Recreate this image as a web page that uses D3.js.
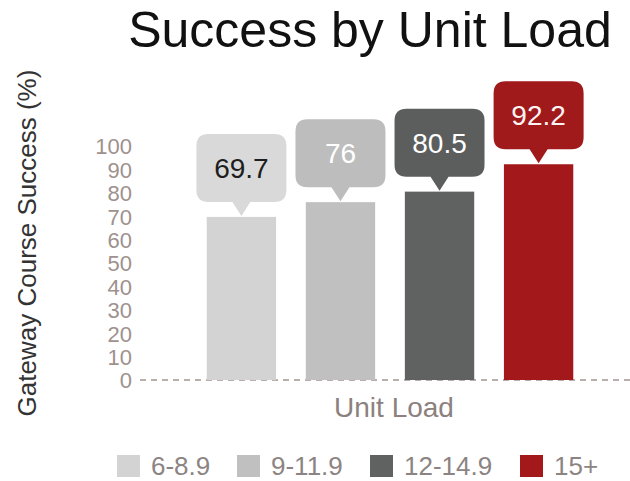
<!DOCTYPE html>
<html lang="en">
<head>
<meta charset="UTF-8">
<title>Success by Unit Load</title>
<style>
  body { margin: 0; background: #fff; }
  svg { display: block; font-family: "Liberation Sans", Arial, sans-serif; }
  .tick text { fill: #9e918e; font-size: 22px; }
</style>
<script src="https://d3js.org/d3.v7.min.js"></script>
</head>
<body>
<script>
// data
const categories = ["6-8.9", "9-11.9", "12-14.9", "15+"];
const values = [69.7, 76, 80.5, 92.2];
const barColors = ["#d3d3d3", "#c0c0c0", "#606262", "#a3191b"];
const boxColors = ["#d9d9d9", "#bdbdbd", "#5c5e5e", "#a0191b"];
const labelColors = ["#1e1e1e", "#ffffff", "#ffffff", "#fdf4f4"];
const yTicks = [0, 10, 20, 30, 40, 50, 60, 70, 80, 90, 100];

const w = 630, h = 481;
const svg = d3.select("body").append("svg")
  .attr("width", w)
  .attr("height", h);

const x = d3.scaleBand()
  .domain(categories)
  .range([177, 603])
  .padding(0.3);

const y = d3.scaleLinear()
  .domain([0, 100])
  .range([380, 146]);

// title
svg.append("text")
  .attr("x", 370)
  .attr("y", 47)
  .attr("text-anchor", "middle")
  .style("font-size", "50px")
  .style("fill", "#111")
  .text("Success by Unit Load");

// y axis label
svg.append("text")
  .attr("transform", "translate(36,243) rotate(-90)")
  .attr("text-anchor", "middle")
  .style("font-size", "26px")
  .style("fill", "#333")
  .text("Gateway Course Success (%)");

// y axis, just the numbers
const yAxis = svg.append("g")
  .attr("transform", "translate(135,0)")
  .call(d3.axisLeft(y).tickValues(yTicks).tickSize(0).tickPadding(3));
yAxis.select(".domain").remove();
yAxis.selectAll("text").attr("dy", "0.36em");

// dashed baseline
svg.append("line")
  .attr("x1", 140)
  .attr("x2", w)
  .attr("y1", y(0))
  .attr("y2", y(0))
  .attr("stroke", "#b8aeac")
  .attr("stroke-width", 2)
  .attr("stroke-dasharray", "6,5");

// bars
svg.selectAll("rect.bar")
  .data(values)
  .enter()
  .append("rect")
  .attr("class", "bar")
  .attr("x", (d, i) => x(categories[i]))
  .attr("y", d => y(d))
  .attr("width", x.bandwidth())
  .attr("height", d => y(0) - y(d))
  .attr("fill", (d, i) => barColors[i]);

// callout bubbles above the bars
const boxW = 90, boxH = 68, gap = 15, r = 12, tri = 9;
function bubble(cx, top) {
  const b = top - gap, t = b - boxH, l = cx - boxW / 2, rt = cx + boxW / 2;
  return "M" + (l + r) + "," + t +
    "H" + (rt - r) + "Q" + rt + "," + t + " " + rt + "," + (t + r) +
    "V" + (b - r) + "Q" + rt + "," + b + " " + (rt - r) + "," + b +
    "H" + (cx + tri) + "L" + cx + "," + (top - 1) + "L" + (cx - tri) + "," + b +
    "H" + (l + r) + "Q" + l + "," + b + " " + l + "," + (b - r) +
    "V" + (t + r) + "Q" + l + "," + t + " " + (l + r) + "," + t + "Z";
}

const cxOf = i => x(categories[i]) + x.bandwidth() / 2;

svg.selectAll("path.bubble")
  .data(values)
  .enter()
  .append("path")
  .attr("class", "bubble")
  .attr("d", (d, i) => bubble(cxOf(i), y(d)))
  .attr("fill", (d, i) => boxColors[i]);

svg.selectAll("text.val")
  .data(values)
  .enter()
  .append("text")
  .attr("class", "val")
  .attr("x", (d, i) => cxOf(i))
  .attr("y", d => y(d) - gap - boxH / 2)
  .attr("dy", "0.36em")
  .attr("text-anchor", "middle")
  .style("font-size", "28px")
  .style("fill", (d, i) => labelColors[i])
  .text(d => d);

// x axis label
svg.append("text")
  .attr("x", 394)
  .attr("y", 417)
  .attr("text-anchor", "middle")
  .style("font-size", "28px")
  .style("fill", "#8c817e")
  .text("Unit Load");

// legend
const legendX = [117, 237, 370, 520];
const lg = svg.selectAll("g.legend")
  .data(categories)
  .enter()
  .append("g")
  .attr("class", "legend")
  .attr("transform", (d, i) => "translate(" + legendX[i] + ",455)");
lg.append("rect")
  .attr("width", 23)
  .attr("height", 22)
  .attr("fill", (d, i) => barColors[i]);
lg.append("text")
  .attr("x", 34)
  .attr("y", 20)
  .style("font-size", "26px")
  .style("fill", "#8c8482")
  .text(d => d);
</script>
</body>
</html>
